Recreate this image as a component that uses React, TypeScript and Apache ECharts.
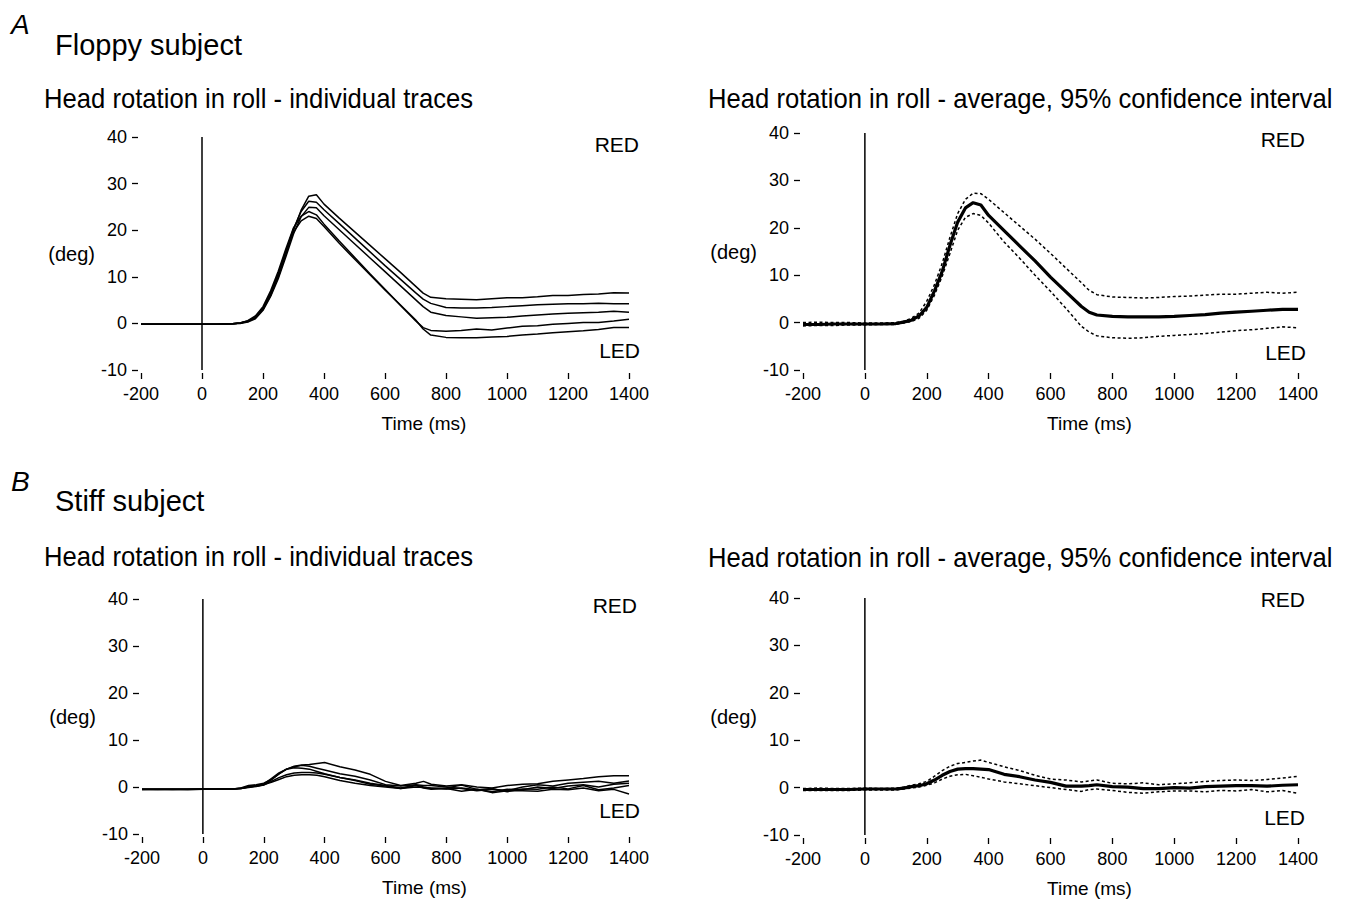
import React, { useEffect, useRef } from "react";
import * as echarts from "echarts";

// ---------- DATA ----------
const TIME = [-200, -150, -100, -50, 0, 50, 100, 125, 150, 175, 200, 225, 250, 275, 300, 325, 350, 375, 400, 450, 500, 550, 600, 650, 700, 725, 750, 800, 850, 900, 950, 1000, 1050, 1100, 1150, 1200, 1250, 1300, 1350, 1400];
const X_TICKS = { min: -200, max: 1400, step: 200 };
const Y_TICKS = { min: -10, max: 40, step: 10 };

// Floppy subject - individual traces
const FLOPPY_T1 = [-0.2, -0.2, -0.2, -0.2, -0.2, -0.2, -0.1, 0.1, 0.4, 1.2, 3.0, 6.0, 10.0, 14.8, 20.0, 24.3, 27.3, 27.6, 25.6, 22.6, 19.7, 16.8, 13.9, 11.0, 8.0, 6.5, 5.6, 5.3, 5.2, 5.1, 5.3, 5.5, 5.5, 5.7, 6.0, 6.0, 6.2, 6.3, 6.6, 6.5];
const FLOPPY_T2 = [-0.2, -0.2, -0.2, -0.2, -0.2, -0.2, -0.1, 0.1, 0.5, 1.4, 3.3, 6.5, 10.6, 15.5, 20.3, 24.0, 26.2, 26.0, 24.4, 21.4, 18.4, 15.4, 12.4, 9.5, 6.6, 5.2, 4.3, 3.4, 3.3, 3.3, 3.4, 3.6, 3.8, 4.0, 4.1, 4.2, 4.2, 4.3, 4.2, 4.2];
const FLOPPY_T3 = [-0.2, -0.2, -0.2, -0.2, -0.2, -0.2, -0.1, 0.0, 0.3, 1.0, 2.8, 5.8, 9.6, 14.3, 19.2, 22.9, 24.9, 24.8, 23.1, 20.1, 17.1, 14.1, 11.1, 8.1, 5.1, 3.6, 2.4, 1.7, 1.4, 1.1, 1.2, 1.3, 1.6, 1.8, 2.0, 2.2, 2.3, 2.4, 2.6, 2.4];
const FLOPPY_T4 = [-0.2, -0.2, -0.2, -0.2, -0.2, -0.2, -0.1, 0.1, 0.6, 1.6, 3.6, 7.0, 11.2, 16.0, 20.5, 23.0, 24.0, 23.3, 21.3, 17.7, 14.2, 10.7, 7.3, 3.9, 0.6, -0.9, -1.5, -1.7, -1.5, -1.2, -1.4, -1.0, -0.6, -0.5, -0.2, 0.0, 0.2, 0.2, 0.5, 0.9];
const FLOPPY_T5 = [-0.2, -0.2, -0.2, -0.2, -0.2, -0.2, -0.1, 0.1, 0.4, 1.3, 3.1, 6.4, 10.6, 15.4, 19.6, 22.0, 23.0, 22.5, 20.8, 17.2, 13.8, 10.5, 7.2, 4.0, 0.8, -1.2, -2.5, -3.0, -3.1, -3.1, -2.9, -2.8, -2.5, -2.3, -2.0, -1.8, -1.6, -1.3, -0.9, -0.9];

// Floppy subject - average and 95% CI
const FLOPPY_MEAN = [-0.4, -0.4, -0.3, -0.3, -0.3, -0.3, -0.2, 0.1, 0.5, 1.4, 3.2, 6.7, 10.8, 16.3, 21.2, 24.2, 25.3, 24.8, 22.6, 19.4, 16.2, 13.0, 9.6, 6.5, 3.4, 2.2, 1.6, 1.3, 1.2, 1.2, 1.2, 1.3, 1.5, 1.7, 2.0, 2.2, 2.4, 2.6, 2.8, 2.8];
const FLOPPY_UP = [0.0, 0.1, 0.0, 0.0, -0.1, -0.1, 0.0, 0.3, 0.9, 2.0, 4.5, 8.0, 12.5, 18.0, 23.0, 26.0, 27.3, 27.2, 26.0, 23.2, 20.4, 17.6, 14.6, 11.5, 8.4, 6.8, 5.9, 5.4, 5.3, 5.2, 5.3, 5.5, 5.6, 5.8, 6.0, 6.0, 6.2, 6.4, 6.2, 6.4];
const FLOPPY_LO = [-0.7, -0.6, -0.6, -0.5, -0.5, -0.4, -0.4, -0.1, 0.2, 0.9, 2.6, 5.8, 9.8, 14.6, 19.5, 22.2, 23.0, 22.6, 21.0, 17.0, 13.6, 10.0, 6.6, 3.0, -0.8, -2.0, -2.8, -3.2, -3.3, -3.2, -2.9, -2.7, -2.5, -2.3, -2.0, -1.7, -1.5, -1.2, -0.9, -1.1];

// Stiff subject - individual traces
const STIFF_T1 = [-0.5, -0.6, -0.5, -0.5, -0.4, -0.5, -0.4, -0.2, 0.3, 0.5, 0.8, 1.6, 2.8, 3.8, 4.4, 4.7, 4.8, 5.0, 5.2, 4.3, 3.6, 2.7, 1.2, 0.3, 0.8, 1.2, 0.6, 0.2, 0.5, 0.0, -0.2, 0.3, 0.6, 0.7, 1.2, 1.5, 1.8, 2.2, 2.4, 2.4];
const STIFF_T2 = [-0.5, -0.5, -0.6, -0.5, -0.5, -0.4, -0.4, -0.2, 0.0, 0.2, 0.5, 1.5, 2.8, 3.8, 4.3, 4.6, 4.4, 4.0, 3.6, 2.8, 2.3, 1.5, 0.5, 0.2, 0.5, 0.3, 0.3, 0.0, -0.3, -0.8, -0.5, -0.8, 0.0, 0.5, 0.2, 0.8, 1.0, 1.2, 0.8, 1.3];
const STIFF_T3 = [-0.6, -0.5, -0.5, -0.6, -0.5, -0.5, -0.4, -0.3, 0.1, 0.3, 0.6, 1.8, 3.0, 3.8, 4.1, 4.0, 3.8, 3.3, 2.8, 2.0, 1.5, 0.8, 0.3, -0.2, 0.4, 0.0, -0.3, -0.2, 0.4, -0.5, -1.0, -0.5, -0.6, 0.0, -0.3, 0.2, 0.5, 0.0, 0.6, 0.8];
const STIFF_T4 = [-0.5, -0.5, -0.5, -0.5, -0.4, -0.4, -0.4, -0.3, -0.1, 0.1, 0.4, 1.2, 2.0, 2.6, 3.0, 3.1, 3.1, 3.0, 2.7, 2.0, 1.4, 0.6, 0.2, -0.3, 0.0, -0.1, -0.2, -0.4, -0.2, -0.6, -0.3, -1.0, -0.4, -0.5, 0.0, -0.4, 0.3, -0.6, -0.2, 0.3];
const STIFF_T5 = [-0.5, -0.5, -0.5, -0.5, -0.5, -0.4, -0.4, -0.3, 0.0, 0.2, 0.5, 1.0, 1.6, 2.2, 2.5, 2.6, 2.6, 2.5, 2.2, 1.4, 0.8, 0.3, 0.0, -0.3, 0.3, -0.2, -0.5, -0.3, -0.9, -0.5, -1.2, -0.8, -0.8, -0.9, -0.5, -0.6, -0.2, -0.8, -0.5, -1.5];

// Stiff subject - average and 95% CI
const STIFF_MEAN = [-0.4, -0.4, -0.4, -0.4, -0.3, -0.3, -0.3, -0.1, 0.2, 0.4, 0.8, 1.6, 2.6, 3.4, 3.9, 4.0, 4.0, 3.9, 3.8, 2.8, 2.3, 1.6, 1.1, 0.3, 0.3, 0.4, 0.6, 0.2, 0.1, -0.2, -0.2, 0.0, -0.1, 0.2, 0.3, 0.4, 0.4, 0.3, 0.5, 0.6];
const STIFF_UP = [-0.2, -0.1, -0.2, -0.2, -0.1, -0.2, -0.1, 0.1, 0.5, 0.8, 1.3, 2.4, 3.6, 4.5, 5.1, 5.3, 5.6, 5.8, 5.3, 4.4, 3.6, 2.6, 1.8, 1.6, 1.2, 1.4, 1.6, 0.9, 0.8, 1.0, 0.6, 0.8, 1.0, 1.3, 1.5, 1.6, 1.5, 1.7, 2.0, 2.4];
const STIFF_LO = [-0.6, -0.6, -0.6, -0.6, -0.5, -0.5, -0.5, -0.3, -0.1, 0.1, 0.5, 1.0, 1.8, 2.4, 2.7, 2.8, 2.5, 2.2, 1.8, 1.2, 0.8, 0.4, 0.0, -0.4, -0.8, -0.4, -0.3, -0.6, -1.0, -1.2, -0.9, -0.7, -0.7, -0.9, -0.6, -0.7, -0.4, -0.9, -0.6, -1.2];

const STIMULUS_LINE = [[0, 40], [0, -10]];

const TITLE_TRACES = "Head rotation in roll - individual traces";
const TITLE_AVG = "Head rotation in roll - average, 95% confidence interval";

// ---------- CHART ----------
const FONT = "'Liberation Sans', Arial, Helvetica, sans-serif";
const INK = "#000";

const zip = (t: number[], v: number[]) => t.map((x, i) => [x, v[i]]);

export default function App() {
  const ref = useRef<HTMLDivElement>(null);

  useEffect(() => {
    if (!ref.current) return;
    const chart = echarts.init(ref.current, undefined, { renderer: "svg" });

    const grids = [
      { left: 141, top: 137, width: 488, height: 233 },
      { left: 803, top: 133, width: 495, height: 237 },
      { left: 142, top: 599, width: 487, height: 235 },
      { left: 803, top: 598, width: 495, height: 237 },
    ];

    const xAxes = grids.map((_, i) => ({
      type: "value",
      gridIndex: i,
      min: X_TICKS.min,
      max: X_TICKS.max,
      interval: X_TICKS.step,
      offset: 3,
      axisLine: { show: false, onZero: false },
      axisTick: { show: true, length: 6, lineStyle: { color: INK, width: 1.3 } },
      axisLabel: {
        color: INK,
        fontSize: 18,
        fontFamily: FONT,
        margin: 12,
        formatter: (v: number) => String(v),
      },
      splitLine: { show: false },
      name: "Time (ms)",
      nameLocation: "middle",
      nameGap: 41,
      nameTextStyle: { color: INK, fontSize: 19, fontFamily: FONT, padding: [0, 0, 0, 78] },
    }));

    const yAxes = grids.map((_, i) => ({
      type: "value",
      gridIndex: i,
      min: Y_TICKS.min,
      max: Y_TICKS.max,
      interval: Y_TICKS.step,
      offset: 3,
      axisLine: { show: false, onZero: false },
      axisTick: { show: true, length: 6, lineStyle: { color: INK, width: 1.3 } },
      axisLabel: {
        color: INK,
        fontSize: 18,
        fontFamily: FONT,
        margin: 11,
        formatter: (v: number) => String(v),
      },
      splitLine: { show: false },
      name: "(deg)",
      nameLocation: "middle",
      nameRotate: 0,
      nameGap: 43,
      nameTextStyle: { color: INK, fontSize: 20, fontFamily: FONT, padding: [9, 0, 0, 0] },
    }));

    const thin = (idx: number, vals: number[]) => ({
      type: "line",
      xAxisIndex: idx,
      yAxisIndex: idx,
      data: zip(TIME, vals),
      symbol: "none",
      silent: true,
      lineStyle: { color: INK, width: 1.5 },
    });
    const bold = (idx: number, vals: number[]) => ({
      ...thin(idx, vals),
      lineStyle: { color: INK, width: 3.2 },
      z: 3,
    });
    const dashed = (idx: number, vals: number[]) => ({
      ...thin(idx, vals),
      lineStyle: { color: INK, width: 1.5, type: [3, 2.5] },
    });
    const stim = (idx: number) => ({
      type: "line",
      xAxisIndex: idx,
      yAxisIndex: idx,
      data: STIMULUS_LINE,
      symbol: "none",
      silent: true,
      lineStyle: { color: INK, width: 1.5 },
    });

    const series = [
      stim(0),
      ...[FLOPPY_T1, FLOPPY_T2, FLOPPY_T3, FLOPPY_T4, FLOPPY_T5].map((v) => thin(0, v)),
      stim(1),
      dashed(1, FLOPPY_UP),
      dashed(1, FLOPPY_LO),
      bold(1, FLOPPY_MEAN),
      stim(2),
      ...[STIFF_T1, STIFF_T2, STIFF_T3, STIFF_T4, STIFF_T5].map((v) => thin(2, v)),
      stim(3),
      dashed(3, STIFF_UP),
      dashed(3, STIFF_LO),
      bold(3, STIFF_MEAN),
    ];

    const txt = (
      text: string,
      x: number,
      y: number,
      fontSize: number,
      italic: boolean = false,
      align: string = "left",
      scaleX: number = 1
    ) => ({
      type: "text",
      x,
      y,
      scaleX,
      style: {
        text,
        fill: INK,
        font: `${italic ? "italic" : "normal"} normal ${fontSize}px ${FONT}`,
        textAlign: align,
        textVerticalAlign: "middle",
      },
    });

    const graphic = [
      txt("A", 11, 24, 28, true),
      txt("Floppy subject", 55, 45, 29),
      txt(TITLE_TRACES, 44, 99, 27, false, "left", 0.95),
      txt(TITLE_AVG, 708, 99, 27, false, "left", 0.95),
      txt("RED", 639, 144, 21, false, "right"),
      txt("LED", 640, 350, 21, false, "right"),
      txt("RED", 1305, 139, 21, false, "right"),
      txt("LED", 1306, 352, 21, false, "right"),
      txt("B", 11, 481, 28, true),
      txt("Stiff subject", 55, 501, 29),
      txt(TITLE_TRACES, 44, 557, 27, false, "left", 0.95),
      txt(TITLE_AVG, 708, 558, 27, false, "left", 0.95),
      txt("RED", 637, 605, 21, false, "right"),
      txt("LED", 640, 810, 21, false, "right"),
      txt("RED", 1305, 599, 21, false, "right"),
      txt("LED", 1305, 817, 21, false, "right"),
    ];

    chart.setOption({
      animation: false,
      backgroundColor: "#ffffff",
      textStyle: { fontFamily: FONT },
      grid: grids.map((g) => ({ ...g, containLabel: false, outerBoundsMode: "none" })),
      xAxis: xAxes,
      yAxis: yAxes,
      series,
      graphic,
    });

    return () => chart.dispose();
  }, []);

  return (
    <div
      ref={ref}
      style={{ position: "fixed", left: 0, top: 0, width: 1345, height: 905, background: "#fff" }}
    />
  );
}
